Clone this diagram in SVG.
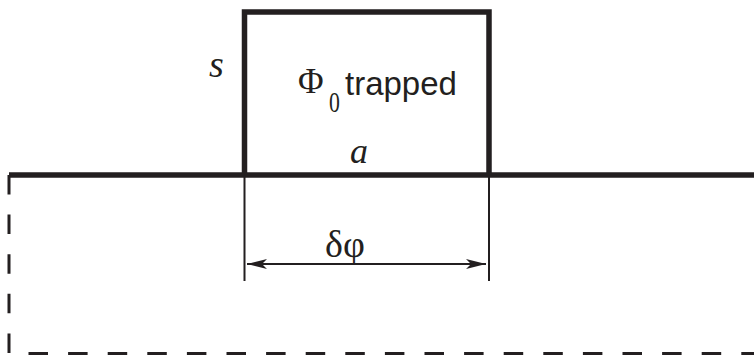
<svg xmlns="http://www.w3.org/2000/svg" width="754" height="355" viewBox="0 0 754 355">
<defs>
<style>
.thick{fill:none;stroke:#231f20;stroke-width:5.5;stroke-linejoin:miter}
.thin{fill:none;stroke:#231f20;stroke-width:2}
.dash{fill:none;stroke:#231f20;stroke-width:3;stroke-dasharray:19.5 20.1}
.serif{font-family:"Liberation Serif","Times New Roman",serif;fill:#231f20}
.sans{font-family:"Liberation Sans",Arial,sans-serif;fill:#231f20}
.it{font-style:italic}
</style>
<marker id="ah" viewBox="0 0 20 10" refX="20" refY="5" markerWidth="20" markerHeight="10" markerUnits="userSpaceOnUse" orient="auto-start-reverse">
<path d="M0,0 L20,5 L0,10 L5,5 Z" fill="#231f20"/>
</marker>
</defs>
<rect width="754" height="355" fill="#ffffff"/>
<g id="ground">
<path class="thick" d="M9,175 H754"/>
<path class="dash" d="M9,175 V353.5 H754"/>
</g>
<g id="loop">
<path class="thick" d="M244.5,175 V12 H489 V175"/>
<text class="serif it" x="209" y="77" font-size="38">s</text>
<text class="serif it" x="350" y="163" font-size="36">a</text>
<text class="serif" x="298" y="93" font-size="35">Φ</text>
<text class="serif" font-size="29" transform="translate(329,111.5) scale(0.75,1)">0</text>
<text class="sans" x="345" y="95" font-size="33">trapped</text>
</g>
<g id="connectors">
<path class="thin" d="M244.5,175 V281 M489,175 V281"/>
<path class="thin" d="M247,264 H486" marker-start="url(#ah)" marker-end="url(#ah)"/>
<text class="serif" x="325" y="257" font-size="38">δφ</text>
</g>
</svg>
